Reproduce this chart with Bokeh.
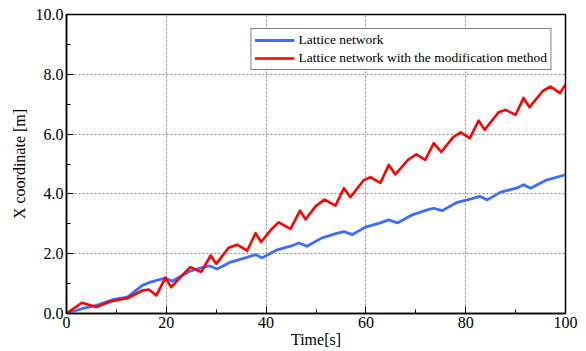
from bokeh.plotting import figure
from bokeh.embed import file_html
from bokeh.resources import INLINE
from bokeh.models import FixedTicker, Range1d, CustomJSTickFormatter

# Data
t_lattice = [0, 3.1, 6, 9.5, 12.2, 15.2, 16.5, 18.8, 19.8, 21.2, 22.8, 24.8, 27, 28.7, 30.2,
             32.9, 36.2, 37.9, 39.2, 42.2, 44.9, 46.6, 48.2, 51.2, 54.3, 55.6, 57.3, 59.9,
             62.9, 64.6, 66.3, 69.3, 72.6, 73.6, 75.3, 78.3, 81.3, 82.8, 84.3, 87, 90.3,
             91.6, 93, 96, 100]
x_lattice = [0, 0.16, 0.27, 0.47, 0.55, 0.94, 1.03, 1.14, 1.19, 1.08, 1.24, 1.42, 1.53, 1.59, 1.49,
             1.72, 1.88, 1.97, 1.86, 2.13, 2.25, 2.36, 2.25, 2.53, 2.69, 2.74, 2.64, 2.89,
             3.03, 3.13, 3.03, 3.30, 3.48, 3.52, 3.44, 3.72, 3.84, 3.92, 3.80, 4.06, 4.20,
             4.31, 4.19, 4.45, 4.64]

t_modified = [0, 3.1, 6, 8.8, 12.2, 15.2, 16.5, 18, 19.8, 21, 22.8, 24.8, 27, 28.9, 30,
              32.5, 34.2, 36.2, 37.9, 39, 41, 42.5, 44.9, 46.8, 47.9, 50, 51.7, 53.9, 55.6,
              56.9, 59.5, 60.9, 62.9, 64.6, 65.9, 68.5, 70.1, 71.9, 73.6, 75.1, 77.5, 79,
              80.8, 82.6, 83.8, 86.6, 88, 90, 91.6, 92.8, 95.5, 97, 98.9, 100]
x_modified = [0, 0.36, 0.22, 0.40, 0.51, 0.77, 0.80, 0.60, 1.19, 0.88, 1.21, 1.55, 1.39, 1.94, 1.66,
              2.20, 2.30, 2.10, 2.69, 2.39, 2.80, 3.05, 2.83, 3.44, 3.15, 3.60, 3.81, 3.61, 4.19,
              3.89, 4.45, 4.56, 4.37, 4.97, 4.65, 5.15, 5.32, 5.14, 5.70, 5.40, 5.90, 6.06,
              5.86, 6.45, 6.14, 6.73, 6.81, 6.64, 7.21, 6.90, 7.45, 7.59, 7.37, 7.66]

x_ticks = [0, 20, 40, 60, 80, 100]
x_minor = [10, 30, 50, 70, 90]
y_ticks = [0, 2, 4, 6, 8, 10]
y_minor = [1, 3, 5, 7, 9]

label_lattice = "Lattice network"
label_modified = "Lattice network with the modification method"

FONT = "Liberation Serif"

p = figure(width=586, height=351, output_backend="svg", toolbar_location=None,
           x_range=Range1d(0, 100), y_range=Range1d(0, 10),
           min_border_left=66, min_border_right=21, min_border_top=14, min_border_bottom=38)
p.background_fill_color = "white"
p.border_fill_color = "white"
p.outline_line_color = "black"
p.outline_line_width = 1.5

p.line(t_lattice, x_lattice, line_color="#3d6dff", line_width=2.8, line_join="round",
       legend_label=label_lattice)
p.line(t_modified, x_modified, line_color="#ff0000", line_width=2.6, line_join="round",
       legend_label=label_modified)

p.xaxis.ticker = FixedTicker(ticks=x_ticks, minor_ticks=x_minor)
p.yaxis.ticker = FixedTicker(ticks=y_ticks, minor_ticks=y_minor)
p.yaxis.formatter = CustomJSTickFormatter(code="return tick.toFixed(1);")

for ax in (p.xaxis, p.yaxis):
    ax.axis_line_color = "black"
    ax.axis_line_width = 1.5
    ax.major_tick_in = 7
    ax.major_tick_out = 0
    ax.minor_tick_in = 4
    ax.minor_tick_out = 0
    ax.major_tick_line_color = "black"
    ax.minor_tick_line_color = "black"
    ax.major_label_text_font = FONT
    ax.major_label_text_font_size = "16px"
    ax.major_label_text_color = "black"
    ax.axis_label_text_font = FONT
    ax.axis_label_text_font_size = "16px"
    ax.axis_label_text_font_style = "normal"
    ax.axis_label_text_color = "black"

p.xaxis.major_label_standoff = 3
p.yaxis.major_label_standoff = 3
p.xaxis.axis_label = "Time[s]"
p.yaxis.axis_label = "X coordinate [m]"
p.xaxis.axis_label_standoff = 0
p.yaxis.axis_label_standoff = 5

p.xgrid.ticker = FixedTicker(ticks=[20, 40, 60, 80])
p.ygrid.ticker = FixedTicker(ticks=[2, 4, 6, 8])
for g in (p.xgrid, p.ygrid):
    g.grid_line_color = "#888888"
    g.grid_line_dash = "2 2"
    g.grid_line_width = 1

lg = p.legend[0]
lg.location = "top_right"
lg.margin = 14
lg.border_line_color = "black"
lg.border_line_width = 1.2
lg.background_fill_alpha = 1
lg.label_text_font = FONT
lg.label_text_font_size = "13.5px"
lg.label_text_color = "black"
lg.glyph_width = 40
lg.glyph_height = 14
lg.label_height = 14
lg.label_standoff = 4
lg.padding = 3
lg.spacing = 2

open("out.html", "w").write(file_html(p, INLINE))
